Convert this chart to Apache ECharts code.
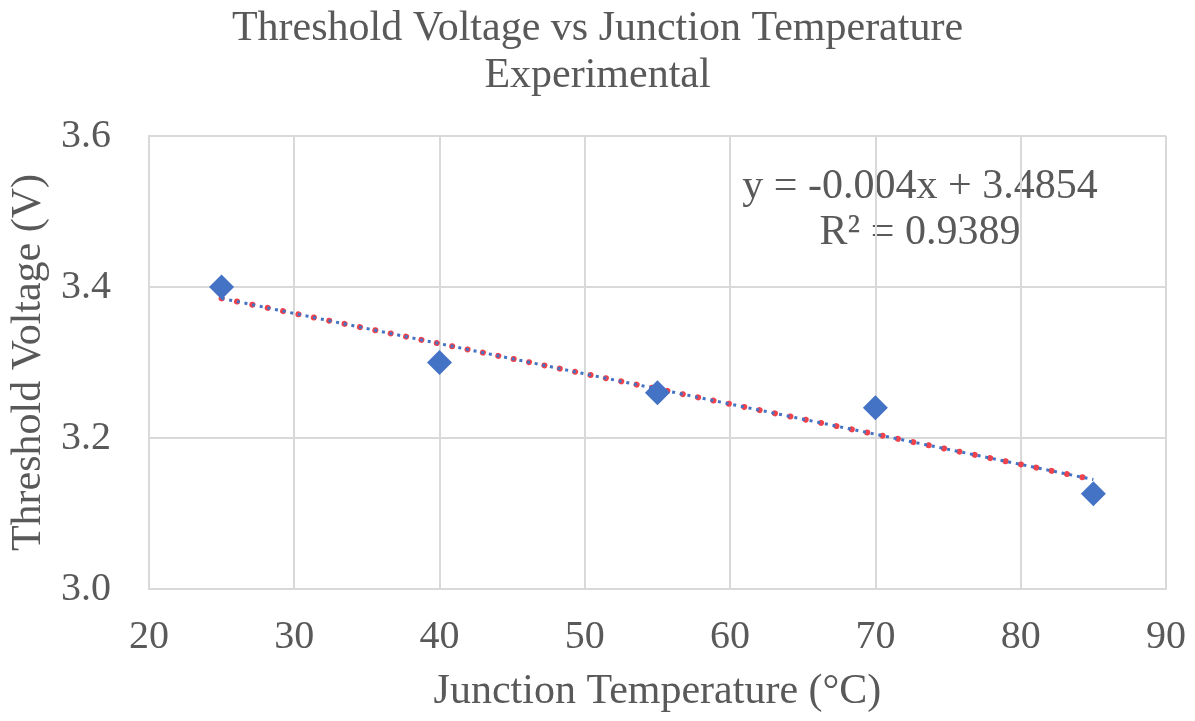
<!DOCTYPE html>
<html>
<head>
<meta charset="utf-8">
<script src="https://cdn.jsdelivr.net/npm/echarts@6/dist/echarts.min.js"></script>
<style>
  html, body { margin: 0; padding: 0; background: #fff; }
  #chart { width: 1195px; height: 721px; }
</style>
</head>
<body>
<div id="chart"></div>
<script>
// measured points
const temps = [25, 40, 55, 70, 85];
const voltages = [3.40, 3.30, 3.26, 3.24, 3.126];
// linear trend line end points
const trendX = [25, 85];
const trendY = [3.385, 3.145];
const xTicks = [20, 90, 10];
const yTicks = [3.0, 3.6, 0.2];

const font = 'Liberation Serif, Times New Roman, serif';
const grey = '#595959';

const points = temps.map((t, i) => [t, voltages[i]]);
const trend = trendX.map((t, i) => [t, trendY[i]]);

const chart = echarts.init(document.getElementById('chart'));
chart.setOption({
    animation: false,
    title: {
        text: 'Threshold Voltage vs Junction Temperature\nExperimental',
        left: 'center',
        top: 0,
        textStyle: {
            fontFamily: font,
            fontSize: 42,
            fontWeight: 'normal',
            color: grey,
            lineHeight: 47
        }
    },
    grid: {
        left: 148,
        right: 29,
        top: 136,
        bottom: 132
    },
    xAxis: {
        type: 'value',
        min: xTicks[0],
        max: xTicks[1],
        interval: xTicks[2],
        name: 'Junction Temperature (°C)',
        nameLocation: 'middle',
        nameGap: 82,
        nameTextStyle: { fontFamily: font, fontSize: 42, color: grey },
        axisLine: { show: true, lineStyle: { color: '#d9d9d9', width: 2 } },
        axisTick: { show: false },
        axisLabel: { fontFamily: font, fontSize: 40, color: grey, margin: 28 },
        splitLine: { show: true, lineStyle: { color: '#d9d9d9', width: 2 } }
    },
    yAxis: {
        type: 'value',
        min: yTicks[0],
        max: yTicks[1],
        interval: yTicks[2],
        name: 'Threshold Voltage (V)',
        nameLocation: 'middle',
        nameGap: 95,
        nameTextStyle: { fontFamily: font, fontSize: 42, color: grey },
        axisLine: { show: true, lineStyle: { color: '#d9d9d9', width: 2 } },
        axisTick: { show: false },
        axisLabel: {
            fontFamily: font, fontSize: 40, color: grey, margin: 38,
            formatter: v => v.toFixed(1)
        },
        splitLine: { show: true, lineStyle: { color: '#d9d9d9', width: 2 } }
    },
    series: [
        {
            type: 'line',
            data: trend,
            symbol: 'none',
            lineStyle: { color: '#f0424a', width: 6, type: [0.1, 15.6], cap: 'round' },
            z: 2
        },
        {
            type: 'line',
            data: trend,
            symbol: 'none',
            lineStyle: { color: '#4472c4', width: 3, type: [3, 4.8] },
            z: 3
        },
        {
            type: 'scatter',
            data: points,
            symbol: 'diamond',
            symbolSize: [25, 25],
            itemStyle: { color: '#4472c4', opacity: 1 },
            z: 4
        }
    ],
    graphic: [
        {
            type: 'text',
            x: 920,
            y: 164,
            style: {
                text: 'y = -0.004x + 3.4854\nR² = 0.9389',
                font: '42px ' + font,
                fill: grey,
                align: 'center',
                verticalAlign: 'top',
                lineHeight: 46
            }
        }
    ]
});
</script>
</body>
</html>
